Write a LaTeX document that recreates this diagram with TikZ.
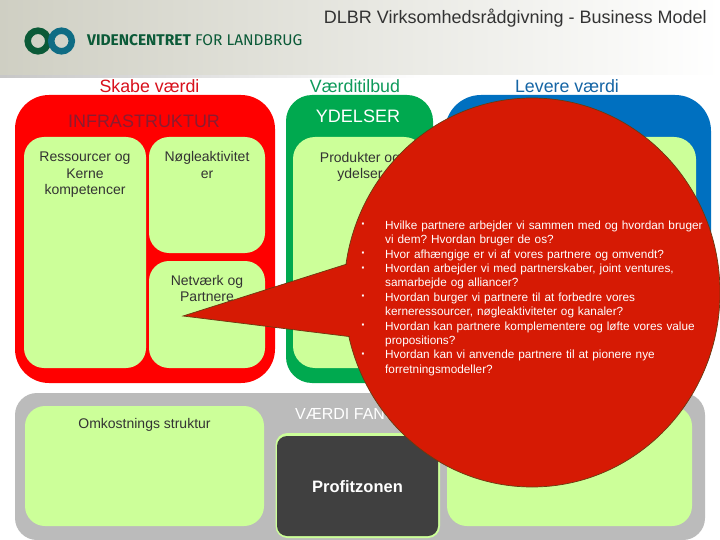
\documentclass[tikz,border=0pt]{standalone}
\usepackage{fontspec}
\setmainfont{Liberation Sans}
\newfontfamily\logofont{Fira Sans}
\usetikzlibrary{shapes.geometric,fadings}
\definecolor{cred}{HTML}{FF0000}
\definecolor{cgreen}{HTML}{00A94F}
\definecolor{cblue}{HTML}{0070C0}
\definecolor{cgrey}{HTML}{BBBBBB}
\definecolor{clime}{HTML}{CCFF99}
\definecolor{cdark}{HTML}{404040}
\definecolor{cbubble}{HTML}{D61A04}
\definecolor{cbubbleline}{HTML}{6B3A10}
\definecolor{ctext}{HTML}{333333}
\definecolor{logogreen}{HTML}{0B5A38}
\definecolor{logoblue}{HTML}{0F6C84}
\definecolor{headl}{HTML}{CFCFC3}
\definecolor{tred}{HTML}{D8101C}
\definecolor{tgreen}{HTML}{0E9A5A}
\definecolor{tblue}{HTML}{1565A5}
\definecolor{tinfra}{HTML}{8B1C30}
\tikzset{
  x=1pt,y=-1pt,
  inner/.style={fill=clime,rounded corners=20pt},
  lab/.style={font=\fontsize{14}{16.5}\selectfont,text=ctext,align=center,inner sep=0pt},
  head/.style={font=\fontsize{18}{21}\selectfont,inner sep=0pt},
  top/.style={font=\fontsize{17.8}{21}\selectfont,inner sep=0pt},
  q/.style={font=\fontsize{11.8}{14.4}\selectfont,text=white,align=left,inner sep=0pt,anchor=north west,text width=330pt},
  bul/.style={font=\fontsize{8}{9}\selectfont,text=white,inner sep=0pt},
}
\begin{document}
\frenchspacing
\begin{tikzpicture}
\useasboundingbox (0,0) rectangle (720,540);
\fill[white] (0,0) rectangle (720,540);
% header
\shade[left color=headl, right color=white] (0,0) rectangle (720,75);
\fill[black!22,path fading=east] (0,75) rectangle (420,78);
\node[inner sep=0pt,text=ctext,font=\fontsize{18}{21}\selectfont,anchor=east] (title) at (707,18) {DLBR Virksomhedsrådgivning - Business Model};
% logo
\draw[logogreen,line width=6.5pt] (38,41) circle (10.3pt);
\draw[logoblue,line width=6.5pt] (61.5,41) circle (10.3pt);
\node[inner sep=0pt,anchor=west,font=\logofont\fontsize{15.5}{18}\selectfont,text=logogreen] (logo) at (87,40) {\textbf{VIDENCENTRET} FOR LANDBRUG};
% column titles
\node[top,text=tred] (t1) at (149.5,86) {Skabe værdi};
\node[top,text=tgreen] (t2) at (355,86) {Værditilbud};
\node[top,text=tblue] (t3) at (567,86) {Levere værdi};
% red block
\fill[cred,rounded corners=34pt] (15,95) rectangle (275,383);
\node[head,text=tinfra] (infra) at (144,121.5) {INFRASTRUKTUR};
\fill[inner] (24,137) rectangle (146,368);
\fill[inner] (149,137) rectangle (265,253);
\fill[inner] (149,261) rectangle (265,368);
\node[lab] (res) at (85,175) {Ressourcer og\\Kerne\\kompetencer};
\node[lab] (nog) at (207,165) {Nøgleaktivitet\\er};
\node[lab] (net) at (207,288.5) {Netværk og\\Partnere};
% green block
\fill[cgreen,rounded corners=26pt] (286,95) rectangle (433,383);
\node[head,text=white] (yd) at (358,116) {YDELSER};
\fill[inner,rounded corners=22pt] (293,137) rectangle (426,368);
\node[lab] (prod) at (360,167) {Produkter og\\ydelser};
% blue block
\fill[cblue,rounded corners=36pt] (445,95) rectangle (711,383);
\fill[inner,rounded corners=22pt] (455,137) rectangle (696,368);
% grey block
\fill[cgrey,rounded corners=22pt] (15,393) rectangle (705,540);
\fill[inner] (25,406) rectangle (264,526);
\fill[inner] (447,406) rectangle (692,526);
\fill[clime,rounded corners=12pt] (275.5,433) rectangle (440,538);
\fill[cdark,rounded corners=10pt] (277,436) rectangle (438,536);
\node[lab] (omk) at (144.5,425) {Omkostnings struktur};
\node[lab,text=white,anchor=west,font=\fontsize{16}{19}\selectfont] (vf) at (295,414) {VÆRDI FANGST};
\node[lab,text=white,font=\bfseries\fontsize{16.5}{19}\selectfont] (pro) at (357.5,487) {Profitzonen};
% callout
\coordinate (tip) at (183,316);
\coordinate (wa) at (347,264);
\coordinate (wb) at (349.5,336.6);
\node[ellipse,draw=cbubbleline,fill=cbubble,line width=.7pt,minimum width=376pt,minimum height=389pt,inner sep=0pt] (bubble) at (532,292.5) {};
\fill[cbubble] (tip) -- (wa) -- (360,300) -- (wb) -- cycle;
\draw[cbubbleline,line width=.7pt] (wa) -- (tip) -- (wb);
% text
\foreach \n/\y in {a/225,b/254,c/269,d/297,e/326,f/355}{\node[bul] (b\n) at (363,\y) {▪};}
\node[q] (qa) at (385,220.5) {Hvilke partnere arbejder vi sammen med og hvordan bruger\\vi dem? Hvordan bruger de os?\\Hvor afhængige er vi af vores partnere og omvendt?\\Hvordan arbejder vi med partnerskaber, joint ventures,\\samarbejde og alliancer?\\Hvordan burger vi partnere til at forbedre vores\\kerneressourcer, nøgleaktiviteter og kanaler?\\Hvordan kan partnere komplementere og løfte vores value\\propositions?\\Hvordan kan vi anvende partnere til at pionere nye\\forretningsmodeller?};
\end{tikzpicture}
\end{document}
